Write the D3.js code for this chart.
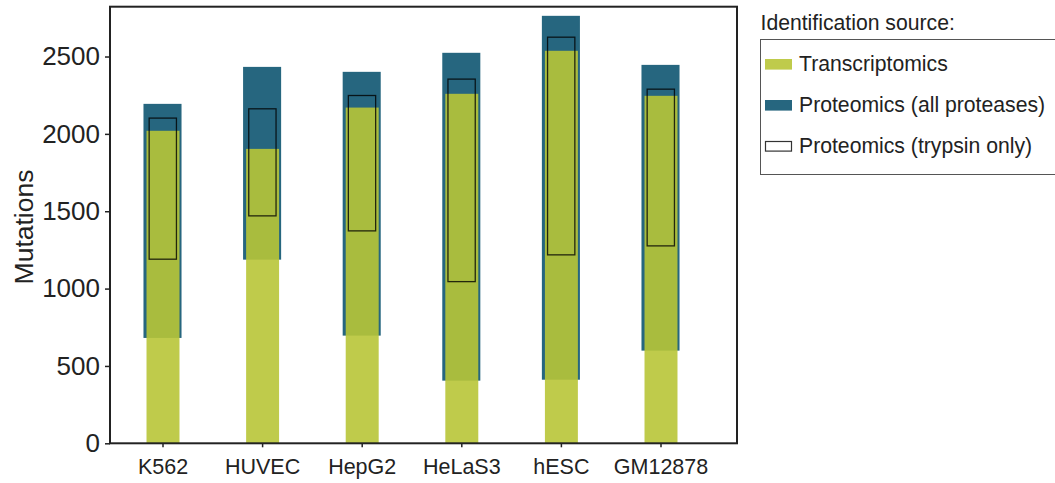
<!DOCTYPE html>
<html>
<head>
<meta charset="utf-8">
<script src="https://cdn.jsdelivr.net/npm/d3@7"></script>
<style>
  html, body { margin: 0; padding: 0; background: #fff; }
  svg text { font-family: Arial, "Liberation Sans", Helvetica, sans-serif; fill: #222; }
</style>
</head>
<body>
<svg id="chart" width="1055" height="483"></svg>
<script>
// Cell lines
const cellLines = ["K562", "HUVEC", "HepG2", "HeLaS3", "hESC", "GM12878"];

// Transcriptomics: number of mutations identified (bars start at 0)
const transcriptomics = [2020, 1903, 2170, 2259, 2537, 2246];

// Proteomics, all proteases: floating range [low, high]
const proteomicsAllLow  = [681, 1187, 696, 405, 411, 599];
const proteomicsAllHigh = [2194, 2433, 2401, 2524, 2763, 2446];

// Proteomics, trypsin only: floating range [low, high]
const trypsinLow  = [1190, 1470, 1373, 1045, 1218, 1276];
const trypsinHigh = [2102, 2162, 2248, 2354, 2625, 2289];

const yTicks = [0, 500, 1000, 1500, 2000, 2500];

const legendTitle = "Identification source:";
const legendItems = ["Transcriptomics", "Proteomics (all proteases)", "Proteomics (trypsin only)"];

const colorGreen = "#b8c537";
const colorBlue = "#26667f";

const svg = d3.select("#chart");

const frame = { left: 110, right: 737, top: 6.7, bottom: 443.3 };

const x = d3.scalePoint()
  .domain(cellLines)
  .range([frame.left + 52.5, frame.right - 76.5]);
const step = x.step();

const y = d3.scaleLinear()
  .domain([0, 2822])
  .range([frame.bottom, frame.top]);

const rows = cellLines.map((c, i) => ({
  name: c,
  tr: transcriptomics[i],
  pLo: proteomicsAllLow[i], pHi: proteomicsAllHigh[i],
  tLo: trypsinLow[i], tHi: trypsinHigh[i]
}));

const wBlue = step * 0.382, wGreen = step * 0.331, wBox = step * 0.274;

// Proteomics (all proteases)
svg.append("g").selectAll("rect").data(rows).join("rect")
  .attr("x", d => x(d.name) - wBlue / 2)
  .attr("width", wBlue)
  .attr("y", d => y(d.pHi))
  .attr("height", d => y(d.pLo) - y(d.pHi))
  .attr("fill", colorBlue);

// Transcriptomics
svg.append("g").selectAll("rect").data(rows).join("rect")
  .attr("x", d => x(d.name) - wGreen / 2 + 0.5)
  .attr("width", wGreen)
  .attr("y", d => y(d.tr))
  .attr("height", d => y(0) - y(d.tr))
  .attr("fill", colorGreen)
  .attr("fill-opacity", 0.9);

// Proteomics (trypsin only) outlines
svg.append("g").selectAll("rect").data(rows).join("rect")
  .attr("x", d => x(d.name) - wBox / 2 + 0.3)
  .attr("width", wBox)
  .attr("y", d => y(d.tHi))
  .attr("height", d => y(d.tLo) - y(d.tHi))
  .attr("fill", "none")
  .attr("stroke", "#000")
  .attr("stroke-opacity", 0.8)
  .attr("stroke-width", 1.3);

// Axes
const yAxis = svg.append("g")
  .attr("transform", `translate(${frame.left},0)`)
  .call(d3.axisLeft(y).tickValues(yTicks).tickFormat(d3.format("d"))
    .tickSize(5).tickSizeOuter(0).tickPadding(5));
yAxis.select(".domain").remove();
yAxis.selectAll("line").attr("stroke", "#222").attr("stroke-width", 1.5);
yAxis.selectAll("text").attr("font-size", 26).style("fill", "#222");

const xAxis = svg.append("g")
  .attr("transform", `translate(0,${frame.bottom})`)
  .call(d3.axisBottom(x).tickSize(4).tickSizeOuter(0).tickPadding(11));
xAxis.select(".domain").remove();
xAxis.selectAll("line").attr("stroke", "#222").attr("stroke-width", 1.5);
xAxis.selectAll("text").attr("font-size", 21.5).style("fill", "#222");

// Frame
svg.append("rect")
  .attr("x", frame.left).attr("y", frame.top)
  .attr("width", frame.right - frame.left)
  .attr("height", frame.bottom - frame.top)
  .attr("fill", "none")
  .attr("stroke", "#222")
  .attr("stroke-width", 2);

// Y label
svg.append("text")
  .attr("transform", `translate(32.5,${(frame.top + frame.bottom) / 2 + 2}) rotate(-90)`)
  .attr("text-anchor", "middle")
  .attr("font-size", 26.5)
  .text("Mutations");

// Legend
const lg = svg.append("g");
lg.append("text")
  .attr("x", 760.5).attr("y", 29.5)
  .attr("font-size", 21.2)
  .text(legendTitle);
lg.append("rect")
  .attr("x", 760.5).attr("y", 39.5)
  .attr("width", 340).attr("height", 135)
  .attr("fill", "#fff")
  .attr("stroke", "#555")
  .attr("stroke-width", 1);

const swatchStyles = [
  { fill: colorGreen, opacity: 0.9, stroke: "none" },
  { fill: colorBlue, opacity: 1, stroke: "none" },
  { fill: "#fff", opacity: 1, stroke: "#000" }
];
legendItems.forEach((label, i) => {
  const cy = 64.3 + i * 41;
  const s = swatchStyles[i];
  lg.append("rect")
    .attr("x", s.stroke === "none" ? 765 : 765.5)
    .attr("y", s.stroke === "none" ? cy - 5.3 : cy - 4.8)
    .attr("width", s.stroke === "none" ? 27 : 26)
    .attr("height", s.stroke === "none" ? 10.6 : 9.6)
    .attr("fill", s.fill)
    .attr("fill-opacity", s.opacity)
    .attr("stroke", s.stroke)
    .attr("stroke-opacity", 0.8)
    .attr("stroke-width", 1.2);
  lg.append("text")
    .attr("x", 799).attr("y", cy + 6.2)
    .attr("font-size", 21.2)
    .text(label);
});
</script>
</body>
</html>
